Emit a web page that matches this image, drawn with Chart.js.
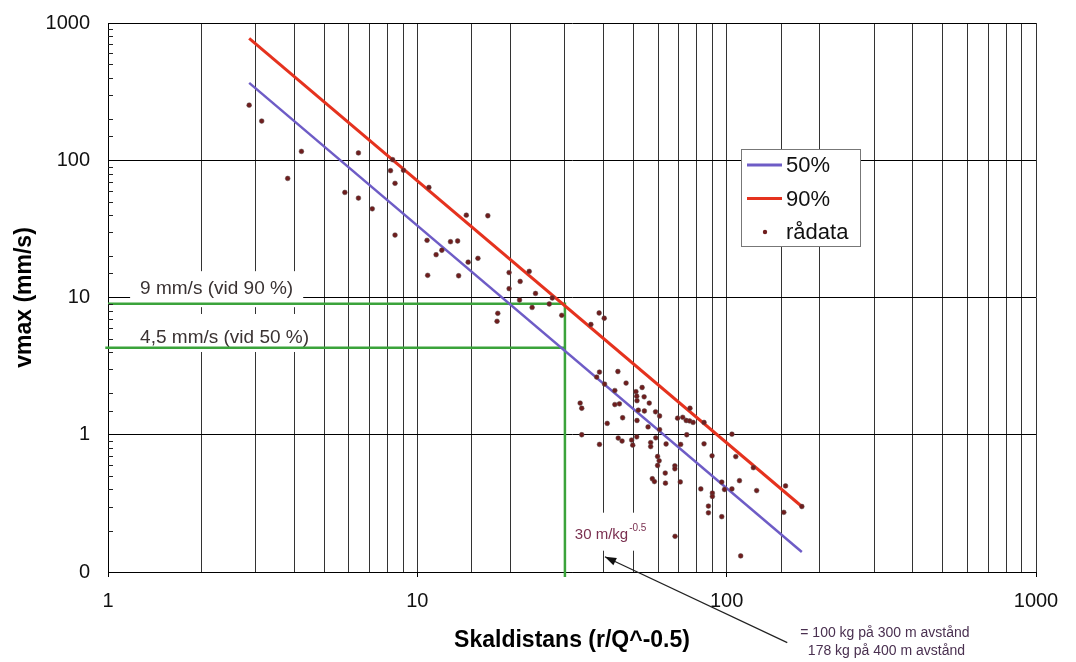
<!DOCTYPE html>
<html>
<head>
<meta charset="utf-8">
<script src="https://cdn.jsdelivr.net/npm/chart.js@4.4.0/dist/chart.umd.min.js"></script>
<style>
  body { margin: 0; background: #fff; }
</style>
</head>
<body>
<canvas id="myChart" width="1076" height="662"></canvas>
<script>
// raw data (skaldistans, vmax)
const radX = [2.86, 3.14, 4.22, 3.81, 6.45, 5.83, 6.45, 7.15, 8.32, 8.19, 9.02, 8.47, 8.47, 10.9, 10.75, 10.8,
  11.5, 12.0, 12.8, 13.5, 14.4, 16.9, 14.6, 15.7, 13.6, 18.2, 18.1, 19.8, 19.8, 23.0, 21.5, 24.1, 21.4, 27.3,
  26.7, 23.5, 29.3, 38.7, 40.2, 36.4, 38.8, 38.0, 44.5, 47.3, 40.3, 33.6, 34.0, 43.5, 43.5, 45.0, 50.9, 51.2,
  51.3, 53.3, 54.1, 56.2, 51.8, 54.2, 46.1, 41.1, 51.3, 55.7, 58.9, 60.7, 59.0, 60.7, 34.0, 38.8, 44.6, 45.9,
  49.3, 49.7, 51.2, 56.8, 56.8, 63.7, 59.8, 60.5, 59.8, 63.3, 57.5, 58.4, 63.4, 68.0, 68.0, 70.8, 69.4, 72.1,
  74.0, 75.9, 77.9, 76.1, 84.5, 74.3, 71.0, 84.5, 89.7, 89.9, 89.9, 82.5, 87.3, 87.3, 96.4, 96.4, 98.4, 104,
  110, 104, 107, 122, 125, 155, 153, 175, 111, 68.1];
const radY = [252, 193, 116, 73.7, 113, 58.3, 53, 44.3, 101, 84, 84.4, 67.9, 28.5, 63.4, 26.1, 14.5,
  20.5, 22.1, 25.5, 25.8, 39.8, 39.4, 18.1, 19.3, 14.4, 7.67, 6.71, 15.2, 11.6, 15.5, 13.1, 10.7, 9.59, 9.92,
  8.97, 8.46, 7.42, 7.71, 7.06, 6.36, 2.86, 2.63, 2.89, 2.38, 2.34, 1.70, 1.56, 2.10, 1.66, 1.68, 2.06, 1.91,
  1.77, 2.21, 1.89, 1.70, 1.51, 1.49, 1.33, 1.21, 1.27, 1.14, 1.47, 1.37, 0.95, 1.09, 1.00, 0.85, 0.946, 0.90,
  0.915, 0.84, 0.965, 0.877, 0.82, 0.856, 0.694, 0.646, 0.597, 0.526, 0.478, 0.456, 0.444, 0.594, 0.565, 0.453, 1.32, 1.34,
  1.27, 1.26, 1.23, 1.56, 1.23, 1.00, 0.85, 0.859, 0.702, 0.376, 0.355, 0.403, 0.302, 0.270, 0.253, 0.452, 0.399, 0.403,
  0.463, 1.01, 0.693, 0.576, 0.392, 0.424, 0.272, 0.300, 0.131, 0.182];

// fitted lines (end points)
const fitX = [2.86, 175];
const fit50 = [366, 0.14];
const fit90 = [774, 0.30];

// green reading lines
const ref90X = [1, 30, 30];
const ref90Y = [9, 9, 0.092];
const ref50X = [0.98, 30];
const ref50Y = [4.3, 4.3];

const FONT = "'Liberation Sans', Arial, sans-serif";
const RED = "#e5321e";
const PURPLE = "#6e5cc6";
const GREEN = "#3ba33b";
const DOT = "#6f1d1d";

const pts = (xs, ys) => xs.map((x, i) => ({ x: x, y: ys[i] }));

function isDecade(v) {
  const l = Math.log10(v);
  return Math.abs(l - Math.round(l)) < 1e-6;
}

// text notes anchored in data space
const notes = [
  { x: 1.27, y: 11.5, text: "9 mm/s (vid 90 %)", size: 19, color: "#3a3232", box: [10, 18, 10, 18] },
  { x: 1.27, y: 5.07, text: "4,5 mm/s (vid 50 %)", size: 19, color: "#3a3232", box: [10, 24, 10, 14] },
  { x: 32.3, y: 0.187, text: "30 m/kg", sup: "-0.5", size: 15, color: "#7a3050", box: [5, 22, 8, 16] },
];
const arrowHead = { x: 40.4, y: 0.129 };
const arrowTail = { x: 157, y: 0.0306 };
const footNote = [
  { x: 173, y: 0.0361, text: "= 100 kg på 300 m avstånd" },
  { x: 183, y: 0.0263, text: "178 kg på 400 m avstånd" },
];

const notesPlugin = {
  id: "notes",
  beforeDatasetsDraw(chart) {
    const ctx = chart.ctx;
    const sx = chart.scales.x, sy = chart.scales.y;
    ctx.save();
    ctx.textBaseline = "middle";
    notes.forEach((n) => {
      const x = sx.getPixelForValue(n.x);
      const y = sy.getPixelForValue(n.y);
      ctx.font = n.size + "px " + FONT;
      let w = ctx.measureText(n.text).width;
      let supW = 0;
      if (n.sup) {
        ctx.font = "10px " + FONT;
        supW = ctx.measureText(n.sup).width;
      }
      ctx.fillStyle = "#fff";
      ctx.fillRect(x - n.box[0], y - n.box[1], w + supW + n.box[0] + n.box[2], n.box[1] + n.box[3]);
      ctx.fillStyle = n.color;
      ctx.font = n.size + "px " + FONT;
      ctx.fillText(n.text, x, y);
      if (n.sup) {
        ctx.font = "10px " + FONT;
        ctx.fillText(n.sup, x + w + 1, y - 6);
      }
    });
    ctx.restore();
  },
  afterDraw(chart) {
    const ctx = chart.ctx;
    const sx = chart.scales.x, sy = chart.scales.y;
    const area = chart.chartArea;
    ctx.save();

    // minor y ticks, drawn inwards
    ctx.strokeStyle = "#222";
    ctx.lineWidth = 1;
    sy.ticks.forEach((t) => {
      if (isDecade(t.value)) return;
      const y = Math.round(sy.getPixelForValue(t.value)) + 0.5;
      ctx.beginPath();
      ctx.moveTo(area.left, y);
      ctx.lineTo(area.left + 5, y);
      ctx.stroke();
    });

    // arrow
    const hx = sx.getPixelForValue(arrowHead.x), hy = sy.getPixelForValue(arrowHead.y);
    const tx = sx.getPixelForValue(arrowTail.x), ty = sy.getPixelForValue(arrowTail.y);
    ctx.strokeStyle = "#222";
    ctx.lineWidth = 1.2;
    ctx.beginPath();
    ctx.moveTo(tx, ty);
    ctx.lineTo(hx, hy);
    ctx.stroke();
    const ang = Math.atan2(hy - ty, hx - tx);
    ctx.fillStyle = "#111";
    ctx.beginPath();
    ctx.moveTo(hx, hy);
    ctx.lineTo(hx - 12 * Math.cos(ang - 0.35), hy - 12 * Math.sin(ang - 0.35));
    ctx.lineTo(hx - 12 * Math.cos(ang + 0.35), hy - 12 * Math.sin(ang + 0.35));
    ctx.closePath();
    ctx.fill();

    ctx.font = "14px " + FONT;
    ctx.fillStyle = "#4a3050";
    ctx.textBaseline = "middle";
    footNote.forEach((f) => {
      ctx.fillText(f.text, sx.getPixelForValue(f.x), sy.getPixelForValue(f.y));
    });

    // legend box
    const lx = 741, ly = 149, lw = 119, lh = 97;
    ctx.fillStyle = "#fff";
    ctx.fillRect(lx, ly, lw, lh);
    ctx.strokeStyle = "#777";
    ctx.lineWidth = 1;
    ctx.strokeRect(lx + 0.5, ly + 0.5, lw, lh);
    const items = [
      { label: "50%", color: PURPLE, kind: "line" },
      { label: "90%", color: RED, kind: "line" },
      { label: "rådata", color: DOT, kind: "dot" },
    ];
    ctx.font = "22px " + FONT;
    items.forEach((it, i) => {
      const y = ly + 16 + i * 33.5;
      if (it.kind === "line") {
        ctx.strokeStyle = it.color;
        ctx.lineWidth = 3;
        ctx.beginPath();
        ctx.moveTo(lx + 6, y);
        ctx.lineTo(lx + 41, y);
        ctx.stroke();
      } else {
        ctx.fillStyle = it.color;
        ctx.beginPath();
        ctx.arc(lx + 24, y, 2.2, 0, Math.PI * 2);
        ctx.fill();
      }
      ctx.fillStyle = "#111";
      ctx.fillText(it.label, lx + 45, y + 1);
    });
    ctx.restore();
  },
};

const data = {
  datasets: [
    {
      label: "rådata",
      data: pts(radX, radY),
      showLine: false,
      pointRadius: 2.4,
      pointBackgroundColor: DOT,
      pointBorderColor: "#5a4a4a",
      pointBorderWidth: 0.5,
    },
    {
      label: "50%",
      data: pts(fitX, fit50),
      showLine: true,
      borderColor: PURPLE,
      borderWidth: 2.5,
      pointRadius: 0,
    },
    {
      label: "90%",
      data: pts(fitX, fit90),
      showLine: true,
      borderColor: RED,
      borderWidth: 3,
      pointRadius: 0,
    },
    {
      label: "ref90",
      data: pts(ref90X, ref90Y),
      showLine: true,
      borderColor: GREEN,
      borderWidth: 2.5,
      pointRadius: 0,
      clip: 8,
    },
    {
      label: "ref50",
      data: pts(ref50X, ref50Y),
      showLine: true,
      borderColor: GREEN,
      borderWidth: 2.5,
      pointRadius: 0,
      clip: 8,
    },
  ],
};

const config = {
  type: "scatter",
  data: data,
  options: {
    responsive: false,
    animation: false,
    layout: { padding: { top: 23, right: 40, left: 0, bottom: 0 } },
    plugins: {
      legend: { display: false },
      tooltip: { enabled: false },
    },
    scales: {
      x: {
        type: "logarithmic",
        min: 1,
        max: 1000,
        afterFit: (s) => { s.height = 90; },
        grid: {
          color: "#333",
          lineWidth: 1,
          tickLength: 5,
          tickColor: (c) => (isDecade(c.tick.value) ? "#000" : "rgba(0,0,0,0)"),
        },
        border: { color: "#000", width: 1 },
        ticks: {
          autoSkip: false,
          maxRotation: 0,
          padding: 12,
          color: "#111",
          font: { size: 20 },
          callback: (v) => (isDecade(v) ? String(Math.round(v)) : ""),
        },
        title: {
          display: true,
          text: "Skaldistans (r/Q^-0.5)",
          color: "#000",
          font: { size: 23, weight: "bold" },
          padding: { top: 0, bottom: 8 },
        },
      },
      y: {
        type: "logarithmic",
        min: 0.1,
        max: 1000,
        afterFit: (s) => { s.width = 108; s.paddingTop = 0; s.paddingBottom = 0; },
        grid: {
          drawTicks: false,
          color: (c) => (isDecade(c.tick.value) ? "#000" : "rgba(0,0,0,0)"),
          lineWidth: 1,
        },
        border: { color: "#000", width: 1 },
        ticks: {
          autoSkip: false,
          padding: 18,
          color: "#111",
          font: { size: 20 },
          callback: (v) => (isDecade(v) ? (v < 0.5 ? "0" : String(Math.round(v))) : ""),
        },
        title: {
          display: true,
          text: "vmax (mm/s)",
          color: "#000",
          font: { size: 23, weight: "bold" },
          padding: { top: 11, bottom: 0 },
        },
      },
    },
  },
  plugins: [notesPlugin],
};

Chart.defaults.font.family = FONT;
Chart.defaults.color = "#111";

let myChart = new Chart(document.getElementById("myChart"), config);
</script>
</body>
</html>
